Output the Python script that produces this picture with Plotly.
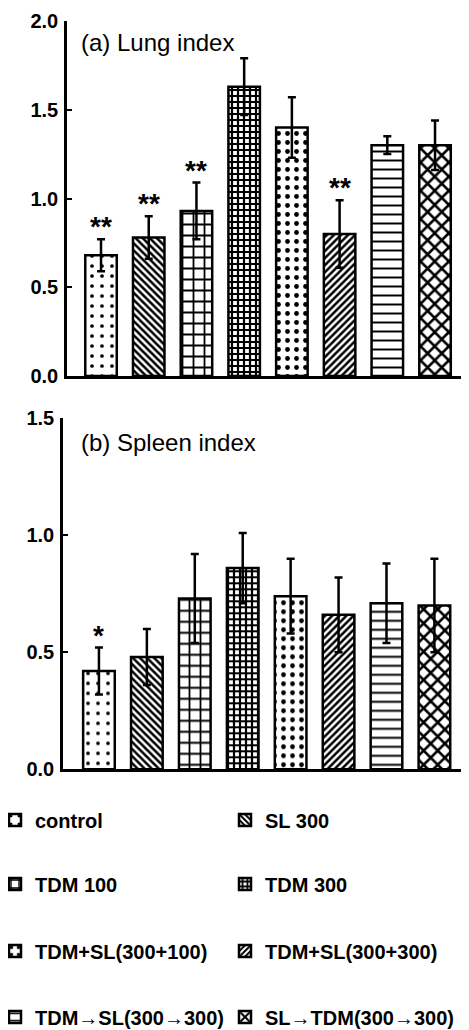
import plotly.graph_objects as go

groups = ["control", "SL 300", "TDM 100", "TDM 300", "TDM+SL(300+100)",
          "TDM+SL(300+300)", "TDM→SL(300→300)", "SL→TDM(300→300)"]
lung_mean = [0.68, 0.78, 0.93, 1.63, 1.40, 0.80, 1.30, 1.30]
lung_sd = [0.09, 0.12, 0.16, 0.16, 0.17, 0.19, 0.05, 0.14]
lung_sig = ["**", "**", "**", "", "", "**", "", ""]
spleen_mean = [0.42, 0.48, 0.73, 0.86, 0.74, 0.66, 0.71, 0.70]
spleen_sd = [0.10, 0.12, 0.19, 0.15, 0.16, 0.16, 0.17, 0.20]
spleen_sig = ["*", "", "", "", "", "", "", ""]
lung_ticks = [0.0, 0.5, 1.0, 1.5, 2.0]
spleen_ticks = [0.0, 0.5, 1.0, 1.5]

patterns = [
    dict(shape=".", size=10, solidity=0.11),
    dict(shape="\\", size=5, solidity=0.5),
    dict(shape="+", size=11, solidity=0.3),
    dict(shape="+", size=6, solidity=0.6),
    dict(shape=".", size=9, solidity=0.22),
    dict(shape="/", size=5, solidity=0.5),
    dict(shape="-", size=9, solidity=0.22),
    dict(shape="x", size=10, solidity=0.45),
]

W, H = 469, 1030
OX, OY = 8, 8  # page body margin offset (screen px = figure px + offset)
FONT = "Liberation Sans, Arial, sans-serif"


def px_x(sx):
    return (sx - OX) / W


def px_y(sy):
    return 1 - (sy - OY) / H


fig = go.Figure()
for i, g in enumerate(groups):
    pat = dict(fgcolor="black", bgcolor="white", fgopacity=1, **patterns[i])
    leg = "legend" if i == 0 else f"legend{i + 1}"
    for mean, sd, xa, ya, show in [(lung_mean, lung_sd, "x", "y", True),
                                   (spleen_mean, spleen_sd, "x2", "y2", False)]:
        fig.add_trace(go.Bar(
            x=[i], y=[mean[i]], width=0.66, name=g,
            xaxis=xa, yaxis=ya, showlegend=show, legend=leg,
            marker=dict(color="white", line=dict(color="black", width=2.5), pattern=pat),
            error_y=dict(type="data", array=[sd[i]], color="black", thickness=2.5, width=4),
        ))

annotations = []
for i, s in enumerate(lung_sig):
    if s:
        annotations.append(dict(x=i, y=lung_mean[i] + lung_sd[i], xref="x", yref="y",
                                text=s, showarrow=False, yanchor="bottom", yshift=-5,
                                font=dict(family=FONT, size=28, color="black", weight="bold")))
for i, s in enumerate(spleen_sig):
    if s:
        annotations.append(dict(x=i, y=spleen_mean[i] + spleen_sd[i], xref="x2", yref="y2",
                                text=s, showarrow=False, yanchor="bottom", yshift=-5,
                                font=dict(family=FONT, size=28, color="black", weight="bold")))
annotations.append(dict(x=px_x(79), y=px_y(43), xref="paper", yref="paper", xanchor="left",
                        yanchor="middle", text="(a) Lung index", showarrow=False,
                        font=dict(family=FONT, size=24, color="black")))
annotations.append(dict(x=px_x(79), y=px_y(442), xref="paper", yref="paper", xanchor="left",
                        yanchor="middle", text="(b) Spleen index", showarrow=False,
                        font=dict(family=FONT, size=24, color="black")))

axis_common = dict(showline=True, linecolor="black", linewidth=2.5, showgrid=False, zeroline=False)
yaxis_common = dict(axis_common, ticks="inside", ticklen=5, tickwidth=2, tickcolor="black",
                    tickformat=".1f", ticklabelposition="outside", ticklabelstandoff=2,
                    tickfont=dict(family=FONT, size=20, color="black", weight="bold"))

legend_font = dict(family=FONT, size=20, color="black", weight="bold")
row_y = [820, 884, 951, 1017]
col_text_x = [36, 266]
legends = {}
for i in range(len(groups)):
    name = "legend" if i == 0 else f"legend{i + 1}"
    legends[name] = dict(orientation="v", x=px_x(col_text_x[i % 2] - 41), xanchor="left",
                         y=px_y(row_y[i // 2]), yanchor="middle",
                         font=legend_font, bgcolor="rgba(0,0,0,0)")

fig.update_layout(
    width=W, height=H, autosize=False,
    margin=dict(l=0, r=0, t=0, b=0, autoexpand=False),
    paper_bgcolor="white", plot_bgcolor="white",
    xaxis=dict(axis_common, domain=[px_x(67), px_x(467)], range=[-0.713, 7.67],
               showticklabels=False, ticks=""),
    yaxis=dict(yaxis_common, domain=[px_y(376), px_y(21)], range=[0, 2.0],
               tickvals=lung_ticks),
    xaxis2=dict(axis_common, domain=[px_x(63), px_x(467)], range=[-0.75, 7.68],
                showticklabels=False, ticks="", anchor="y2"),
    yaxis2=dict(yaxis_common, domain=[px_y(769.3), px_y(418.3)], range=[0, 1.5],
                tickvals=spleen_ticks, anchor="x2"),
    annotations=annotations,
    **legends,
)

fig.write_html("out.html")
